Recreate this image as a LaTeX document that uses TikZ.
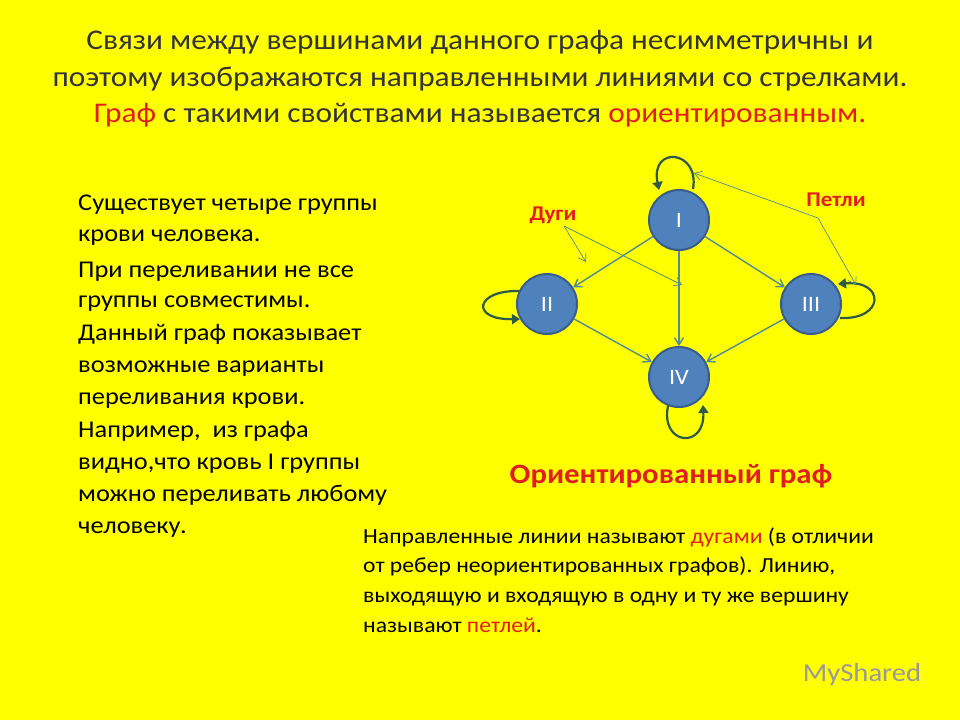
\documentclass[tikz,border=0pt]{standalone}
\usepackage{fontspec}
\setmainfont{Carlito}[FakeStretch=1.1]
\usetikzlibrary{arrows.meta}
\definecolor{bg}{RGB}{255,255,0}
\definecolor{rd}{RGB}{225,30,30}
\definecolor{nf}{RGB}{79,129,189}
\definecolor{nb}{RGB}{56,93,138}
\definecolor{ed}{RGB}{80,140,150}
\definecolor{lp}{RGB}{45,90,70}
\tikzset{
 vert/.style={circle,minimum size=60pt,fill=nf,draw=nb,line width=2pt,text=white,font=\fontsize{22}{22}\selectfont,inner sep=0pt},
 arc/.style={draw=ed,line width=1.4pt,-{Straight Barb[length=7pt,width=9pt]}},
 thin/.style={draw=ed,line width=0.7pt,-{Straight Barb[length=7pt,width=9pt]}},
 loopa/.style={draw=lp,line width=2.2pt,-{Triangle[length=8pt,width=10pt]}},
 txt/.style={anchor=base west,inner sep=0pt,font=\fontsize{24}{24}\selectfont},
 bt/.style={anchor=base west,inner sep=0pt,font=\fontsize{21.5}{20}\selectfont},
 tt/.style={inner sep=0pt,font=\fontsize{28.5}{28}\selectfont,text=black!80}
}
\begin{document}
\begin{tikzpicture}[x=1pt,y=-1pt]
\fill[bg] (0,0) rectangle (960,720);
\useasboundingbox (0,0) rectangle (960,720);
\node[tt] (t1) at (480,42) {Связи между вершинами данного графа несимметричны и};
\node[tt] (t2) at (480,79) {поэтому изображаются направленными линиями со стрелками.};
\node[tt] (t3) at (480,115) {\textcolor{rd}{Граф} с такими свойствами называется \textcolor{rd}{ориентированным.}};
\node[txt] (l1) at (78,210) {Существует четыре группы};
\node[txt] (l2) at (78,241) {крови человека.};
\node[txt] (l3) at (78,277) {При переливании не все};
\node[txt] (l4) at (78,307) {группы совместимы.};
\node[txt] (l5) at (78,340) {Данный граф показывает};
\node[txt] (l6) at (78,372) {возможные варианты};
\node[txt] (l7) at (78,404) {переливания крови.};
\node[txt] (l8) at (78,437) {Например,\ \ из графа};
\node[txt] (l9) at (78,469) {видно,что кровь I группы};
\node[txt] (l10) at (78,501) {можно переливать любому};
\node[txt] (l11) at (78,533) {человеку.};
\node[bt] (b1) at (363,543) {Направленные линии называют \textcolor{rd}{дугами} (в отличии};
\node[bt] (b2) at (363,572) {от ребер неориентированных графов). Линию,};
\node[bt] (b3) at (363,602) {выходящую и входящую в одну и ту же вершину};
\node[bt] (b4) at (363,632) {называют \textcolor{rd}{петлей}.};
\node[inner sep=0pt,text=rd,font=\bfseries\fontsize{28}{24}\selectfont] (og) at (671,476) {Ориентированный граф};
\node[inner sep=0pt,text=black!40,font=\fontsize{26}{24}\selectfont] (ms) at (862,675) {MyShared};
\node[vert] (I) at (679,220) {I};
\node[vert] (II) at (547,304) {II};
\node[vert] (III) at (811,304) {III};
\node[vert] (IV) at (679,377) {IV};
\draw[arc] (I) -- (II);
\draw[arc] (I) -- (III);
\draw[arc] (I) -- (IV);
\draw[arc] (II) -- (IV);
\draw[arc] (III) -- (IV);
\coordinate (ia) at (693,189);
\coordinate (ib) at (659,190);
\draw[loopa] (ia) .. controls (700,150) and (650,145) .. (ib);
\coordinate (iia) at (519,291);
\coordinate (iib) at (520,319);
\draw[loopa] (iia) .. controls (475,290) and (470,320) .. (iib);
\coordinate (iiia) at (840,318);
\coordinate (iiib) at (838,284);
\draw[loopa] (iiia) .. controls (885,320) and (885,280) .. (iiib);
\coordinate (iva) at (668,406);
\coordinate (ivb) at (703,405);
\draw[loopa] (iva) .. controls (660,445) and (705,450) .. (ivb);
\node[inner sep=0pt,text=rd,font=\bfseries\fontsize{21}{18}\selectfont] (dg) at (553,215) {Дуги};
\node[inner sep=0pt,text=rd,font=\bfseries\fontsize{21}{18}\selectfont] (pt) at (836,200) {Петли};
\coordinate (d0) at (564,226);
\coordinate (d1) at (586,262);
\coordinate (d2) at (682,285);
\draw[thin] (d0) -- (d1);
\draw[thin] (d0) -- (d2);
\coordinate (p0) at (818,218);
\coordinate (p1) at (694,173);
\coordinate (p2) at (856,285);
\draw[thin] (p0) -- (p1);
\draw[thin] (p0) -- (p2);
\end{tikzpicture}
\end{document}
